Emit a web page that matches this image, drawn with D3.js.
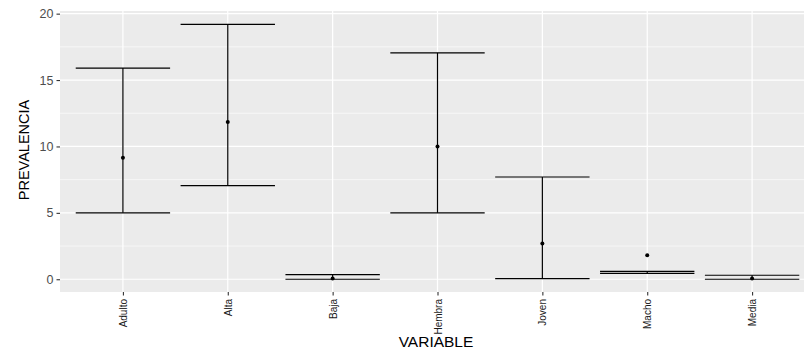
<html>
<head>
  <meta charset="utf-8">
  <style>
    body { margin: 0; background: #fff; }
    text { font-family: "Liberation Sans", Arial, sans-serif; }
  </style>
</head>
<body>
  <script src="https://d3js.org/d3.v7.min.js"></script>
  <script>
    // datos
    var categorias = ["Adulto", "Alta", "Baja", "Hembra", "Joven", "Macho", "Media"];
    var prevalencia = [9.15, 11.85, 0.05, 10.0, 2.7, 1.8, 0.05];
    var inferior = [5.0, 7.05, 0.0, 5.0, 0.05, 0.45, 0.0];
    var superior = [15.9, 19.2, 0.35, 17.05, 7.7, 0.6, 0.3];
    var yTicks = [0, 5, 10, 15, 20];
    var yMinor = [2.5, 7.5, 12.5, 17.5];

    var width = 804, height = 351;
    var svg = d3.select("body").append("svg")
      .attr("width", width)
      .attr("height", height);

    var panel = { left: 60, right: 815, top: 11, bottom: 292 };

    // escala discreta como ggplot (expansion de 0.6)
    var x = d3.scalePoint()
      .domain(categorias)
      .range([panel.left, panel.right])
      .padding(0.6);
    var y = d3.scaleLinear()
      .domain([-0.96, 20.2])
      .range([panel.bottom, panel.top]);

    svg.append("rect")
      .attr("x", panel.left).attr("y", panel.top)
      .attr("width", panel.right - panel.left)
      .attr("height", panel.bottom - panel.top)
      .attr("fill", "#EBEBEB");

    // grid menor y mayor
    svg.append("g").selectAll("line").data(yMinor).enter().append("line")
      .attr("x1", panel.left).attr("x2", panel.right)
      .attr("y1", d => y(d)).attr("y2", d => y(d))
      .attr("stroke", "#fff").attr("stroke-width", 0.6);
    svg.append("g").selectAll("line").data(yTicks).enter().append("line")
      .attr("x1", panel.left).attr("x2", panel.right)
      .attr("y1", d => y(d)).attr("y2", d => y(d))
      .attr("stroke", "#fff").attr("stroke-width", 1.2);
    svg.append("g").selectAll("line").data(categorias).enter().append("line")
      .attr("x1", d => x(d)).attr("x2", d => x(d))
      .attr("y1", panel.top).attr("y2", panel.bottom)
      .attr("stroke", "#fff").attr("stroke-width", 1.2);

    // ejes
    var yAxis = svg.append("g")
      .attr("transform", "translate(" + panel.left + ",0)")
      .call(d3.axisLeft(y).tickValues(yTicks).tickSize(3.5).tickPadding(3));
    yAxis.select(".domain").remove();
    yAxis.selectAll("line").attr("stroke", "#333").attr("stroke-width", 1.1);
    yAxis.selectAll("text").attr("fill", "#4D4D4D").attr("font-size", "12.5px")
      .style("font-family", "Liberation Sans, Arial, sans-serif");

    var xAxis = svg.append("g")
      .attr("transform", "translate(0," + panel.bottom + ")")
      .call(d3.axisBottom(x).tickSize(3.5).tickPadding(3));
    xAxis.select(".domain").remove();
    xAxis.selectAll("line").attr("stroke", "#333").attr("stroke-width", 1.1);
    xAxis.selectAll("text")
      .attr("fill", "#1a1a1a").attr("font-size", "10px")
      .style("font-family", "Liberation Sans, Arial, sans-serif")
      .attr("text-anchor", "end")
      .attr("transform", "rotate(-90)")
      .attr("x", -7).attr("y", 0).attr("dy", "0.35em");

    // barras de error
    var half = x.step() * 0.45;
    var g = svg.append("g");
    categorias.forEach(function (c, i) {
      var cx = x(c);
      g.append("line")
        .attr("x1", cx).attr("x2", cx)
        .attr("y1", y(inferior[i])).attr("y2", y(superior[i]))
        .attr("stroke", "#000").attr("stroke-width", 1.2);
      g.append("line")
        .attr("x1", cx - half).attr("x2", cx + half)
        .attr("y1", y(inferior[i])).attr("y2", y(inferior[i]))
        .attr("stroke", "#000").attr("stroke-width", 1.2);
      g.append("line")
        .attr("x1", cx - half).attr("x2", cx + half)
        .attr("y1", y(superior[i])).attr("y2", y(superior[i]))
        .attr("stroke", "#000").attr("stroke-width", 1.2);
      g.append("circle")
        .attr("cx", cx).attr("cy", y(prevalencia[i]))
        .attr("r", 2).attr("fill", "#000");
    });

    // titulos
    svg.append("text")
      .text("VARIABLE")
      .attr("x", 436)
      .attr("y", 347)
      .attr("text-anchor", "middle")
      .attr("font-size", "15.5px")
      .attr("fill", "#000");
    svg.append("text")
      .text("PREVALENCIA")
      .attr("transform", "translate(29,150) rotate(-90)")
      .attr("text-anchor", "middle")
      .attr("font-size", "14.5px")
      .attr("fill", "#000");
  </script>
</body>
</html>
